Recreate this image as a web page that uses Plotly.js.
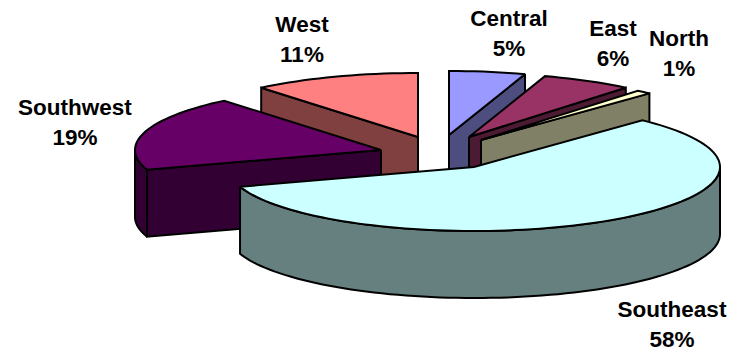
<!DOCTYPE html>
<html>
<head>
<meta charset="utf-8">
<script src="https://cdn.plot.ly/plotly-3.0.1.min.js"></script>
<style>html,body{margin:0;padding:0;background:#fff}#chart{width:732px;height:351px}</style>
</head>
<body>
<div id="chart"></div>
<script>
// Regional shares, clockwise from twelve o'clock
const regions = ['Central', 'East', 'North', 'Southeast', 'Southwest', 'West'];
const shares = [5, 6, 1, 58, 19, 11];

// Surface and side colours for each region
const topColors = ['#9999ff', '#993366', '#ffffcc', '#ccffff', '#660066', '#ff8080'];
const sideColors = ['#4d4d80', '#4d1a33', '#808066', '#668080', '#330033', '#804040'];

// Exploded slice apexes in pixel space
const apexX = [449, 469, 481, 474, 381, 418];
const apexY = [135, 137, 140, 167, 150, 137];

// Label centres in pixel space (first line)
const labelX = [509, 613, 679, 672, 75, 302];
const labelY = [20, 30, 40, 311, 109, 26];
const labelGap = 30;

// Pie tilt: ellipse radii and extrusion depth
const RX = 246, RY = 64, DEPTH = 67;
const rad = d => d * Math.PI / 180;

function rimPoint(i, deg, drop) {
  return [apexX[i] + RX * Math.sin(rad(deg)), apexY[i] - RY * Math.cos(rad(deg)) + drop];
}

function arc(i, from, to, drop) {
  const steps = Math.max(2, Math.ceil(Math.abs(to - from) / 2));
  const pts = [];
  for (let k = 0; k <= steps; k++) pts.push(rimPoint(i, from + (to - from) * k / steps, drop));
  return pts;
}

function polygon(pts, color) {
  return {
    type: 'scatter', mode: 'lines', fill: 'toself', fillcolor: color,
    x: pts.map(p => p[0]).concat(pts[0][0]),
    y: pts.map(p => p[1]).concat(pts[0][1]),
    line: {color: '#000', width: 2, simplify: false},
    hoverinfo: 'skip', showlegend: false
  };
}

// Flat cut face running from the apex to the rim at the given angle
function cutFace(i, deg) {
  const outer = rimPoint(i, deg, 0), outerLow = rimPoint(i, deg, DEPTH);
  return polygon([[apexX[i], apexY[i]], outer, outerLow, [apexX[i], apexY[i] + DEPTH]], sideColors[i]);
}

// Slice geometry comes from the cumulative shares
const total = shares.reduce((a, b) => a + b, 0);
let running = 0;
const slices = shares.map((s, i) => {
  const start = running / total * 360;
  running += s;
  return {i, start, end: running / total * 360};
});

// Painter's order: back slices first, the large front slice last
const paintOrder = [5, 4, 0, 1, 2, 3];
const traces = [];
paintOrder.forEach(idx => {
  const {i, start, end} = slices[idx];
  if (Math.sin(rad(start)) < -1e-6) traces.push(cutFace(i, start));
  if (Math.sin(rad(end)) > 1e-6) traces.push(cutFace(i, end));
  const frontFrom = Math.max(start, 90), frontTo = Math.min(end, 270);
  if (frontTo > frontFrom) {
    traces.push(polygon(arc(i, frontFrom, frontTo, 0).concat(arc(i, frontTo, frontFrom, DEPTH)), sideColors[i]));
  }
  traces.push(polygon([[apexX[i], apexY[i]]].concat(arc(i, start, end, 0)), topColors[i]));
});

// Region names and percentages as two stacked lines of text
const textX = [], textY = [], textValues = [];
regions.forEach((name, i) => {
  textX.push(labelX[i], labelX[i]);
  textY.push(labelY[i], labelY[i] + labelGap);
  textValues.push('<b>' + name + '</b>', '<b>' + shares[i] + '%</b>');
});
traces.push({
  type: 'scatter', mode: 'text', x: textX, y: textY, text: textValues,
  textposition: 'middle center',
  textfont: {family: '"Liberation Sans", Arial, sans-serif', size: 22.5, color: '#000'},
  hoverinfo: 'skip', showlegend: false, cliponaxis: false
});

const hidden = {visible: false, fixedrange: true, showgrid: false, zeroline: false};
Plotly.newPlot('chart', traces, {
  width: 732, height: 351,
  margin: {l: 0, r: 0, t: 0, b: 0},
  paper_bgcolor: '#fff', plot_bgcolor: '#fff',
  showlegend: false,
  xaxis: Object.assign({range: [0, 732]}, hidden),
  yaxis: Object.assign({range: [351, 0]}, hidden)
}, {displayModeBar: false, staticPlot: true});
</script>
</body>
</html>
